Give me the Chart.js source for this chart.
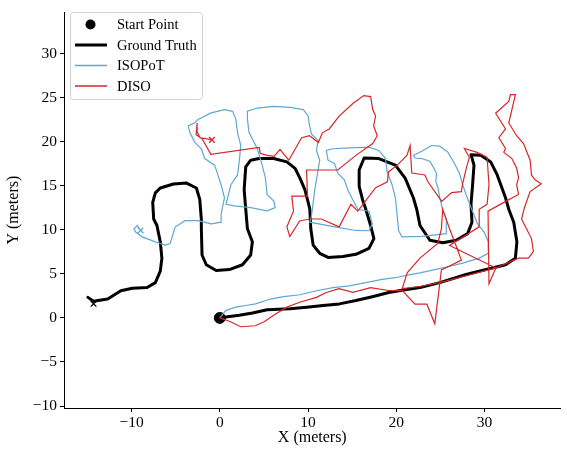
<!DOCTYPE html>
<html>
<head>
<meta charset="utf-8">
<script src="https://cdn.jsdelivr.net/npm/chart.js@4.4.1/dist/chart.umd.min.js"></script>
<style>
  html, body { margin: 0; padding: 0; background: #fff; }
  #wrap { width: 567px; height: 451px; }
</style>
</head>
<body>
<div id="wrap"><canvas id="traj" width="567" height="451"></canvas></div>
<script>
// trajectories in meters
const gtX = [0, 0.7, 2.2, 3.7, 5.36, 7.97, 9.83, 11.7, 13.55, 15.42, 17.28, 19.14, 20.64, 22.68, 24.92, 27.9, 30.87, 32.37, 33.49, 33.66, 33.3, 32.74, 32.37, 31.43, 30.69, 29.58, 28.46, 28.8, 28.64, 28.46, 28.57, 28.08, 26.78, 25.28, 23.8, 22.68, 22.31, 21.93, 21.0, 19.89, 18.02, 16.35, 15.79, 15.79, 16.17, 16.54, 17.09, 17.46, 16.9, 15.42, 13.93, 12.26, 11.32, 10.58, 10.31, 10.2, 10.02, 9.64, 9.08, 8.53, 7.6, 6.11, 4.44, 3.5, 2.94, 2.76, 2.94, 3.13, 3.69, 3.5, 2.57, 1.08, -0.41, -1.53, -2.01, -2.09, -2.09, -2.27, -2.65, -3.77, -5.25, -6.74, -7.3, -7.6, -7.49, -7.12, -6.74, -6.56, -6.74, -7.3, -8.23, -9.91, -11.21, -12.7, -13.6, -14.3, -14.94];
const gtY = [0, 0.1, 0.3, 0.55, 0.92, 1.03, 1.22, 1.41, 1.59, 1.97, 2.41, 2.89, 3.14, 3.44, 4.0, 4.92, 5.67, 6.03, 6.78, 8.63, 10.86, 12.33, 13.63, 16.22, 17.7, 18.44, 18.52, 17.33, 15.1, 12.9, 10.86, 9.56, 8.81, 8.52, 8.81, 10.48, 12.33, 13.63, 15.86, 17.33, 18.08, 18.14, 16.78, 14.92, 13.44, 12.33, 10.48, 9.0, 7.89, 7.22, 6.97, 6.86, 7.33, 8.26, 10.11, 12.33, 13.08, 14.56, 15.86, 16.97, 17.7, 18.08, 18.08, 17.89, 17.14, 14.56, 12.33, 10.11, 8.63, 7.14, 6.03, 5.48, 5.37, 6.03, 7.14, 10.11, 11.22, 13.44, 14.74, 15.3, 15.19, 14.74, 14.19, 13.11, 11.22, 10.48, 8.63, 6.78, 5.3, 4.0, 3.44, 3.37, 3.08, 2.14, 2.0, 1.9, 2.33];

const isoX = [0, 0.7, 1.82, 2.94, 4.06, 5.73, 7.23, 9.08, 10.95, 12.82, 14.67, 16.54, 18.4, 19.89, 21.56, 22.68, 25.28, 27.52, 29.39, 30.42, 30.42, 29.94, 29.2, 28.83, 28.46, 27.9, 27.52, 27.15, 26.59, 25.84, 24.92, 23.99, 23.05, 21.93, 22.12, 22.87, 23.8, 24.17, 24.55, 24.47, 24.73, 24.92, 25.28, 25.66, 25.66, 22.87, 20.64, 20.26, 20.08, 19.89, 19.52, 18.96, 18.77, 18.02, 16.9, 14.67, 12.82, 12.07, 12.26, 12.99, 13.37, 14.11, 14.49, 15.05, 15.64, 16.9, 17.28, 16.9, 15.42, 13.18, 10.2, 10.39, 10.58, 10.76, 10.95, 11.14, 11.32, 10.95, 11.14, 10.39, 10.13, 10.02, 9.46, 7.97, 6.11, 4.25, 3.13, 3.13, 3.32, 4.25, 4.8, 5.17, 5.36, 6.11, 6.29, 5.36, 3.5, 1.64, 0.7, 0.89, 1.26, 2.01, 2.2, 2.38, 2.01, 1.82, 1.45, 0.53, -0.97, -2.46, -2.83, -3.58, -3.39, -2.83, -2.09, -1.71, -0.59, -0.22, 0.15, 0.53, 0.15, 0.15, -0.97, -2.46, -3.94, -5.06, -5.62, -6.18, -7.3, -8.79, -9.53, -9.72, -9.35, -8.97];
const isoY = [0, 0.86, 1.22, 1.41, 1.59, 2.14, 2.41, 2.63, 3.08, 3.44, 3.63, 4.0, 4.37, 4.56, 4.92, 5.11, 5.67, 6.22, 6.78, 7.33, 8.63, 9.74, 10.67, 11.59, 12.52, 14.0, 15.11, 16.41, 17.52, 18.81, 19.48, 19.56, 19.0, 18.44, 18.14, 18.08, 17.78, 17.14, 16.41, 15.48, 14.74, 13.63, 12.14, 11.22, 9.56, 9.26, 9.19, 9.89, 11.78, 13.63, 15.11, 16.59, 18.08, 19.0, 19.37, 19.3, 19.19, 19.0, 17.89, 17.52, 16.41, 15.67, 14.56, 13.44, 12.33, 12.11, 10.67, 9.89, 9.92, 10.3, 10.86, 11.59, 13.08, 14.56, 15.67, 16.78, 17.89, 19.0, 20.11, 20.86, 21.97, 22.89, 23.63, 23.89, 24.0, 23.81, 23.44, 22.52, 21.03, 19.19, 17.33, 15.86, 14.0, 13.26, 12.52, 12.14, 12.52, 12.7, 12.89, 13.63, 15.11, 16.22, 17.7, 19.56, 21.03, 22.52, 23.44, 23.63, 23.26, 22.52, 22.14, 21.78, 21.03, 19.92, 19.19, 18.08, 17.33, 16.22, 15.11, 13.63, 11.78, 10.86, 10.67, 11.03, 11.03, 10.3, 8.44, 8.26, 8.63, 9.19, 9.74, 10.11, 10.48, 9.92];

const disoX = [0, 1.23, 2.35, 4.02, 5.03, 6.15, 7.6, 9.05, 10.95, 12.07, 13.52, 15.08, 17.09, 19.11, 20.67, 22.12, 23.46, 24.36, 25.11, 25.81, 27.37, 26.59, 26.03, 25.25, 25.11, 24.69, 22.68, 21.23, 20.67, 22.68, 24.92, 27.93, 31.28, 33.85, 34.97, 35.53, 35.31, 34.19, 34.53, 35.16, 36.42, 35.72, 35.31, 35.16, 34.41, 33.63, 32.74, 33.49, 32.93, 32.74, 31.25, 32.37, 31.62, 32.37, 32.18, 33.07, 33.63, 33.85, 33.63, 33.85, 32.18, 30.39, 30.5, 31.28, 26.03, 29.39, 29.39, 30.28, 30.5, 30.28, 29.16, 27.71, 28.27, 27.93, 27.49, 27.37, 26.26, 25.14, 23.58, 23.24, 21.75, 21.56, 21.2, 20.11, 19.11, 18.99, 17.65, 15.64, 14.86, 13.52, 11.51, 10.17, 9.05, 7.93, 7.6, 8.35, 8.16, 9.94, 9.83, 12.07, 13.37, 15.42, 17.32, 17.84, 17.43, 17.65, 17.32, 17.09, 16.31, 15.08, 13.52, 12.4, 11.62, 11.17, 10.17, 9.27, 7.82, 6.82, 6.15, 5.36, 4.58, 4.47, -1.01, -2.01, -2.68, -2.57, -2.57, -2.23, -0.89];
const disoY = [0, -0.44, -1.0, -0.89, -0.44, 0.33, 1.22, 1.78, 2.33, 2.89, 3.33, 2.89, 3.44, 3.11, 3.11, 1.56, 1.56, -0.67, 5.44, 5.78, 6.56, 8.67, 10.11, 12.33, 10.11, 8.44, 6.78, 5.11, 3.33, 3.56, 4.0, 4.78, 5.67, 6.78, 6.78, 7.56, 9.0, 11.22, 12.56, 14.33, 15.22, 15.67, 16.22, 17.89, 19.78, 20.67, 22.11, 25.33, 25.33, 24.56, 23.22, 21.44, 20.44, 19.22, 18.78, 18.11, 17.0, 15.89, 15.11, 14.0, 13.11, 12.11, 3.89, 5.67, 8.22, 10.33, 12.33, 12.89, 15.11, 18.22, 18.78, 19.22, 18.22, 17.0, 15.11, 14.33, 14.22, 13.22, 15.44, 16.22, 16.44, 19.56, 18.44, 17.33, 16.56, 15.44, 14.78, 12.11, 12.89, 10.33, 11.22, 11.22, 11.0, 9.22, 10.33, 12.11, 13.81, 13.81, 16.78, 16.78, 16.78, 18.44, 19.78, 20.67, 21.78, 22.89, 23.67, 25.11, 25.22, 24.33, 22.89, 21.44, 21.0, 19.89, 20.67, 20.44, 17.89, 19.11, 18.33, 18.44, 18.67, 19.33, 18.56, 20.33, 20.78, 22.11, 21.11, 20.44, 20.22];

// end positions (x markers): ground truth, ISOPoT, DISO
const endX = [-14.3, -8.97, -0.89];
const endY = [1.6, 9.92, 20.2];
const endColors = ["#000000", "#5fa8d3", "#d62728"];

const startPoint = { x: 0, y: 0 };

const seriesLabels = ["Start Point", "Ground Truth", "ISOPoT", "DISO"];

function pts(xs, ys) {
    return xs.map((x, i) => ({ x: x, y: ys[i] }));
}

const serif = "'Liberation Serif', 'Times New Roman', serif";

const legendBox = {
    id: "legendBox",
    afterDraw(chart) {
        const c = chart.ctx;
        c.save();
        c.beginPath();
        c.roundRect(70.5, 12.5, 132, 87, 3);
        c.fillStyle = "rgba(255,255,255,0.85)";
        c.fill();
        c.strokeStyle = "#d0d0d0";
        c.lineWidth = 1;
        c.stroke();

        const rows = [24.5, 45, 65.5, 86];
        c.fillStyle = "#000";
        c.beginPath();
        c.arc(90.5, rows[0], 5, 0, Math.PI * 2);
        c.fill();

        const lines = [["#000", 3], ["#5fa8d3", 1.5], ["#d62728", 1.5]];
        lines.forEach((l, i) => {
            c.beginPath();
            c.moveTo(75, rows[i + 1]);
            c.lineTo(107, rows[i + 1]);
            c.strokeStyle = l[0];
            c.lineWidth = l[1];
            c.stroke();
        });

        c.font = "14.5px " + serif;
        c.fillStyle = "#000";
        c.textBaseline = "middle";
        seriesLabels.forEach((t, i) => c.fillText(t, 117, rows[i] + 1));
        c.restore();
    }
};

const minus = v => String(v).replace("-", "\u2212");

new Chart(document.getElementById("traj"), {
    type: "scatter",
    data: {
        datasets: [
            {
                label: "ends",
                data: pts(endX, endY),
                showLine: false,
                pointStyle: "crossRot",
                pointRadius: 4,
                borderWidth: 1.3,
                borderColor: endColors,
                order: 0
            },
            {
                label: "DISO",
                data: pts(disoX, disoY),
                showLine: true,
                borderColor: "#d62728",
                borderWidth: 1.2,
                pointRadius: 0,
                tension: 0,
                order: 1
            },
            {
                label: "ISOPoT",
                data: pts(isoX, isoY),
                showLine: true,
                borderColor: "#5fa8d3",
                borderWidth: 1.2,
                pointRadius: 0,
                tension: 0,
                order: 2
            },
            {
                label: "Ground Truth",
                data: pts(gtX, gtY),
                showLine: true,
                borderColor: "#000",
                borderWidth: 3,
                borderCapStyle: "round",
                borderJoinStyle: "round",
                pointRadius: 0,
                tension: 0,
                order: 3
            },
            {
                label: "Start Point",
                data: [startPoint],
                pointRadius: 5.5,
                backgroundColor: "#000",
                borderColor: "#000",
                order: 4
            }
        ]
    },
    options: {
        responsive: false,
        animation: false,
        devicePixelRatio: 1,
        layout: { padding: { top: 4, right: 0, left: 0, bottom: 0 } },
        plugins: {
            legend: { display: false },
            tooltip: { enabled: false }
        },
        scales: {
            x: {
                type: "linear",
                min: -17.65,
                max: 38.6,
                afterFit: s => { s.height = 43; },
                ticks: {
                    stepSize: 10,
                    includeBounds: false,
                    color: "#000",
                    font: { family: serif, size: 15.5 },
                    padding: 2,
                    callback: minus
                },
                grid: { drawOnChartArea: false, color: "#000", tickLength: 4 },
                border: { color: "#000", width: 1 },
                title: {
                    display: true,
                    text: "X (meters)",
                    color: "#000",
                    font: { family: serif, size: 16 },
                    padding: { top: 0, bottom: 4 }
                }
            },
            y: {
                type: "linear",
                min: -10.22,
                max: 34.67,
                afterFit: s => { s.width = 64; },
                ticks: {
                    stepSize: 5,
                    includeBounds: false,
                    color: "#000",
                    font: { family: serif, size: 15.5 },
                    padding: 3,
                    callback: minus
                },
                grid: { drawOnChartArea: false, color: "#000", tickLength: 4 },
                border: { color: "#000", width: 1 },
                title: {
                    display: true,
                    text: "Y (meters)",
                    color: "#000",
                    font: { family: serif, size: 16 },
                    padding: { top: 4, bottom: 0 }
                }
            }
        }
    },
    plugins: [legendBox]
});
</script>
</body>
</html>
